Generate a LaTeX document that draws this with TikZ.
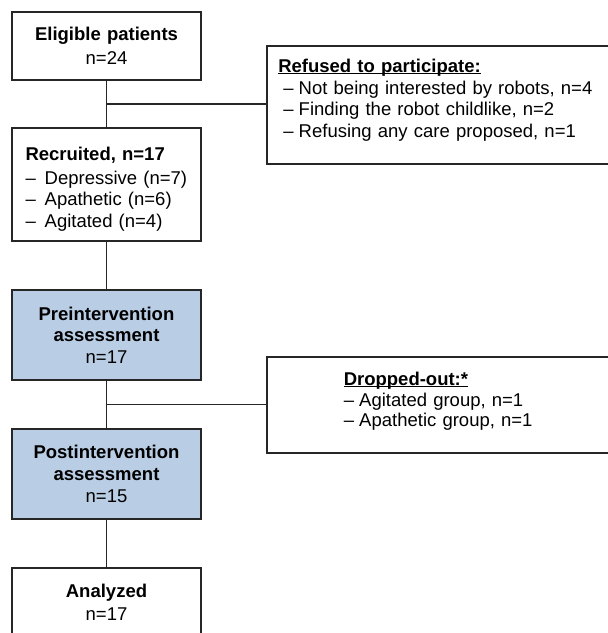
\documentclass[tikz,border=0pt]{standalone}
\usepackage{fontspec}
\setmainfont{Liberation Sans}
\usetikzlibrary{positioning,calc}
\definecolor{lineclr}{HTML}{262626}
\definecolor{boxblue}{HTML}{B9CDE5}
\newcommand{\dashit}[2]{\makebox[#1][l]{–}#2}
\newcommand{\ulhead}[1]{\setbox0\hbox{\textbf{#1}}\rlap{\rule[-1.9pt]{\wd0}{1.3pt}}\box0}
\begin{document}
\begin{tikzpicture}[x=1pt,y=-1pt,
  every node/.style={font=\fontsize{18.5}{21.7}\selectfont},
  box/.style={draw=lineclr, line width=1.5pt, fill=white, inner ysep=0pt},
  cbox/.style={box, minimum width=189pt, text width=170pt, align=center},
  bluebox/.style={cbox, fill=boxblue},
  conn/.style={draw=lineclr, line width=1.5pt}]
\path[use as bounding box, clip] (0,0) rectangle (608,633);
\fill[white] (0,0) rectangle (608,633);

\node[cbox, minimum height=68pt] (elig) at (106.5,46)
  {\textbf{Eligible patients}\\[2.6pt]n=24};
\node[box, minimum width=189pt, minimum height=113pt, inner xsep=13.5pt,
  text width=162pt, align=left] (recr) at (106.5,184.5)
  {\rule{0pt}{23pt}\textbf{Recruited, n=17}\\[1.7pt]
   \dashit{19.2pt}{Depressive (n=7)}\\
   \dashit{19.2pt}{Apathetic (n=6)}\\
   \dashit{19.2pt}{Agitated (n=4)}};
\node[bluebox, minimum height=90pt] (pre) at (106.5,335)
  {\textbf{Preintervention}\\\textbf{assessment}\\n=17};
\node[bluebox, minimum height=90pt] (post) at (106.5,474)
  {\textbf{Postintervention}\\\textbf{assessment}\\n=15};
\node[cbox, minimum height=68pt] (anal) at (106.5,602)
  {\textbf{Analyzed}\\[1.6pt]n=17};

\node[box, anchor=north west, minimum width=360pt, minimum height=118pt,
  inner xsep=11.5pt, text width=337pt, align=left] (refused) at (266,45)
  {\ulhead{Refused to participate:}\\
   \hspace*{5pt}\dashit{15.5pt}{Not being interested by robots, n=4}\\
   \hspace*{5pt}\dashit{15.5pt}{Finding the robot childlike, n=2}\\
   \hspace*{5pt}\dashit{15.5pt}{Refusing any care proposed, n=1}\rule[-13pt]{0pt}{1pt}};
\node[box, anchor=north west, minimum width=360pt, minimum height=96pt,
  inner xsep=76.7pt, text width=206pt, align=left] (dropped) at (266,356)
  {\ulhead{Dropped-out:*}\\[-1pt]
   \dashit{15.5pt}{Agitated group, n=1}\\[-1.4pt]
   \dashit{15.5pt}{Apathetic group, n=1}\rule[-11pt]{0pt}{1pt}};

\coordinate (b1) at ($(elig.south)!0.5!(recr.north)$);
\coordinate (b2) at ($(pre.south)!0.5!(post.north)$);
\draw[conn] (elig.south) -- (recr.north);
\draw[conn] (b1) -- (refused.west |- b1);
\draw[conn] (recr.south) -- (pre.north);
\draw[conn] (pre.south) -- (post.north);
\draw[conn] (b2) -- (dropped.west |- b2);
\draw[conn] (post.south) -- (anal.north);
\end{tikzpicture}
\end{document}
